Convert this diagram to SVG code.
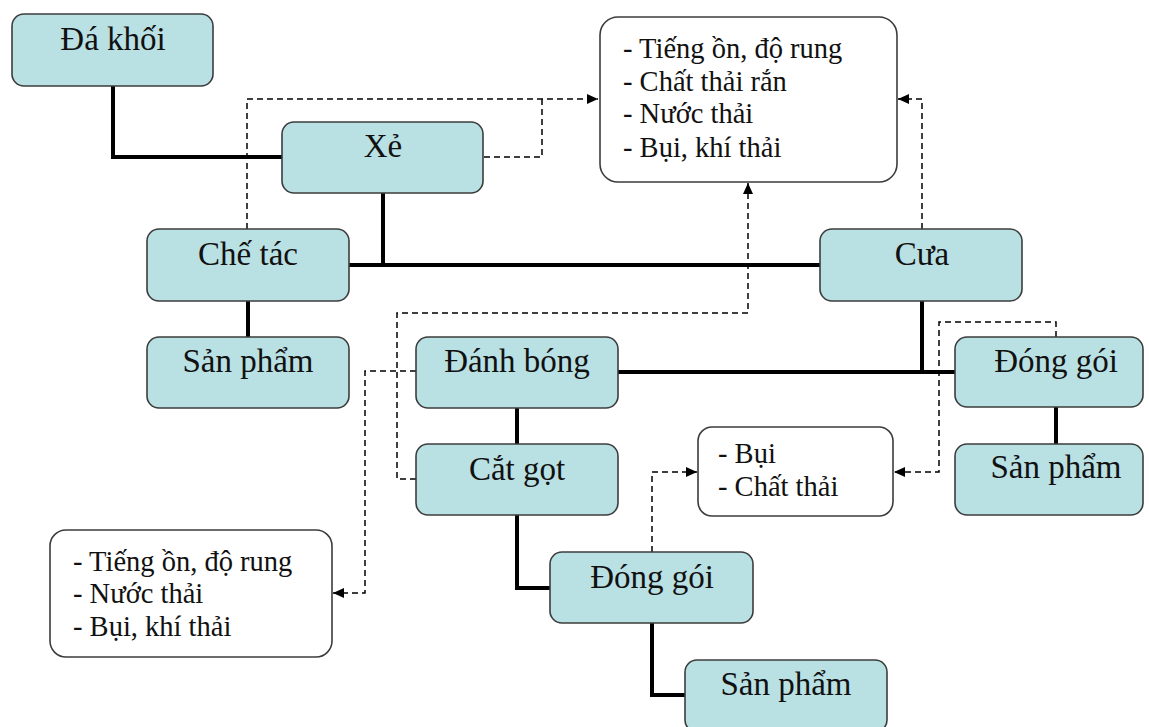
<svg xmlns="http://www.w3.org/2000/svg" width="1149" height="727" viewBox="0 0 1149 727">
<style>
.n rect{fill:#b9e0e3;stroke:#3c3c3c;stroke-width:1.6}
.w rect{fill:#ffffff;stroke:#3c3c3c;stroke-width:1.6}
text{font-family:"Liberation Serif","Times New Roman",serif;fill:#111}
.n text{font-size:33px;text-anchor:middle}
.w text{font-size:28.5px}
.s{fill:none;stroke:#000;stroke-width:4}
.d{fill:none;stroke:#000;stroke-width:1.5;stroke-dasharray:6 4}
.a{marker-end:url(#arr)}
</style>
<defs>
<marker id="arr" markerWidth="12" markerHeight="10" refX="11" refY="5" orient="auto" markerUnits="userSpaceOnUse">
<path d="M0,0 L11,5 L0,10 z" fill="#000"/>
</marker>
</defs>
<rect width="1149" height="727" fill="#fff"/>
<g id="connectors">
<path class="s" d="M113,86 V157 H282"/>
<path class="s" d="M383,193 V265"/>
<path class="s" d="M349,265 H821"/>
<path class="s" d="M248,301 V337"/>
<path class="s" d="M922,301 V372"/>
<path class="s" d="M618,372 H955"/>
<path class="s" d="M517,408 V444"/>
<path class="s" d="M1056,407 V444"/>
<path class="s" d="M517,515 V588 H550"/>
<path class="s" d="M652,623 V695 H685"/>
<path class="d a" d="M247,229 V99 H598"/>
<path class="d" d="M484,157 H542 V99"/>
<path class="d a" d="M922,229 V99 H898"/>
<path class="d a" d="M416,479 H397 V313 H748 V183"/>
<path class="d a" d="M416,371 H365 V593 H333"/>
<path class="d a" d="M652,552 V472 H697"/>
<path class="d a" d="M1056,337 V322 H939 V472 H894"/>
</g>
<g id="da-khoi" class="n"><rect x="12" y="14" width="201" height="72" rx="12"/><text x="113" y="50">Đá khối</text></g>
<g id="xe" class="n"><rect x="282" y="122" width="201" height="71" rx="12"/><text x="383" y="157">Xẻ</text></g>
<g id="che-tac" class="n"><rect x="147" y="229" width="202" height="72" rx="12"/><text x="248" y="265">Chế tác</text></g>
<g id="san-pham-1" class="n"><rect x="147" y="337" width="202" height="71" rx="12"/><text x="248" y="372">Sản phẩm</text></g>
<g id="cua" class="n"><rect x="820" y="229" width="202" height="72" rx="12"/><text x="922" y="265">Cưa</text></g>
<g id="danh-bong" class="n"><rect x="416" y="337" width="202" height="71" rx="12"/><text x="517" y="372">Đánh bóng</text></g>
<g id="cat-got" class="n"><rect x="416" y="444" width="202" height="71" rx="12"/><text x="517" y="480">Cắt gọt</text></g>
<g id="dong-goi-1" class="n"><rect x="955" y="337" width="188" height="70" rx="12"/><text x="1056" y="372">Đóng gói</text></g>
<g id="san-pham-2" class="n"><rect x="955" y="444" width="188" height="71" rx="12"/><text x="1056" y="478">Sản phẩm</text></g>
<g id="dong-goi-2" class="n"><rect x="550" y="552" width="203" height="71" rx="12"/><text x="652" y="588">Đóng gói</text></g>
<g id="san-pham-3" class="n"><rect x="685" y="660" width="202" height="72" rx="12"/><text x="786" y="695">Sản phẩm</text></g>
<g id="tac-dong-1" class="w"><rect x="600" y="17" width="297" height="165" rx="18"/>
<text x="623" y="58">- Tiếng ồn, độ rung</text>
<text x="623" y="91">- Chất thải rắn</text>
<text x="623" y="123">- Nước thải</text>
<text x="623" y="157">- Bụi, khí thải</text></g>
<g id="tac-dong-2" class="w"><rect x="698" y="427" width="195" height="89" rx="14"/>
<text x="718" y="463">- Bụi</text>
<text x="718" y="496">- Chất thải</text></g>
<g id="tac-dong-3" class="w"><rect x="50" y="530" width="282" height="127" rx="16"/>
<text x="73" y="571">- Tiếng ồn, độ rung</text>
<text x="73" y="603">- Nước thải</text>
<text x="73" y="636">- Bụi, khí thải</text></g>
</svg>
